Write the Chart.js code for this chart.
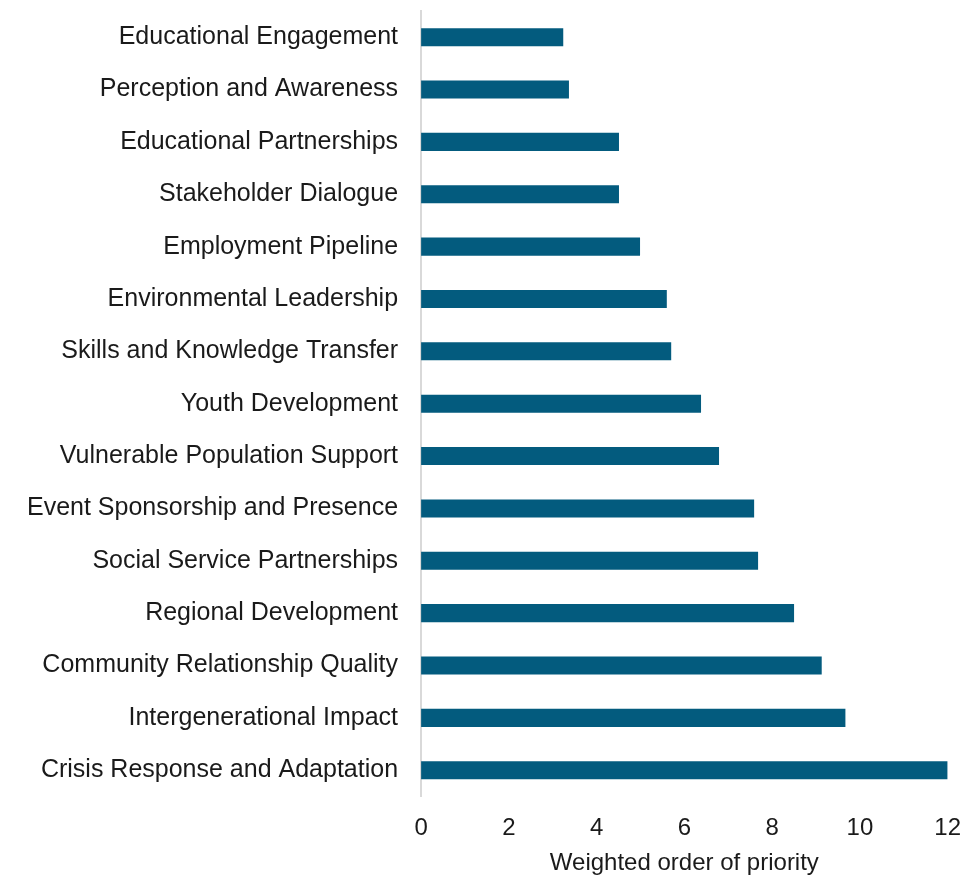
<!DOCTYPE html>
<html>
<head>
<meta charset="utf-8">
<script src="https://cdn.jsdelivr.net/npm/chart.js@4/dist/chart.umd.min.js"></script>
<style>
  html, body { margin: 0; padding: 0; background: #fff; }
  #wrap { width: 966px; height: 885px; overflow: hidden; position: relative; }
  #inner { position: absolute; left: 0; top: -19px; width: 971px; height: 903px; }
</style>
</head>
<body>
<div id="wrap"><div id="inner"><canvas id="priorityChart"></canvas></div></div>
<script>
// --- data ---
const categories = [
    'Educational Engagement',
    'Perception and Awareness',
    'Educational Partnerships',
    'Stakeholder Dialogue',
    'Employment Pipeline',
    'Environmental Leadership',
    'Skills and Knowledge Transfer',
    'Youth Development',
    'Vulnerable Population Support',
    'Event Sponsorship and Presence',
    'Social Service Partnerships',
    'Regional Development',
    'Community Relationship Quality',
    'Intergenerational Impact',
    'Crisis Response and Adaptation'
];
const priorityScores = [3.24, 3.37, 4.51, 4.51, 4.99, 5.6, 5.7, 6.38, 6.79, 7.59, 7.68, 8.5, 9.13, 9.67, 12.0];
const axisTitle = 'Weighted order of priority';

const fontFamily = "'Liberation Sans', Arial, sans-serif";

// --- chart ---
const ctx = document.getElementById('priorityChart').getContext('2d');
new Chart(ctx, {
    type: 'bar',
    data: {
        labels: categories,
        datasets: [
            { label: axisTitle, data: priorityScores, backgroundColor: '#035b7e', barPercentage: 0.69, categoryPercentage: 0.5 }
        ]
    },
    options: {
        indexAxis: 'y',
        responsive: true,
        maintainAspectRatio: false,
        animation: false,
        layout: { padding: { top: 0, right: 0, bottom: 6, left: 12 } },
        plugins: { legend: { display: false }, tooltip: { enabled: false } },
        scales: {
            x: {
                min: 0, max: 12,
                ticks: { stepSize: 2, color: '#1a1a1a', font: { family: fontFamily, size: 24 }, padding: 10 },
                grid: { display: false },
                border: { display: false },
                title: { display: true, text: axisTitle, color: '#1a1a1a', font: { family: fontFamily, size: 24 }, padding: { top: -4, bottom: 0 } }
            },
            y: {
                ticks: { color: '#1a1a1a', font: { family: fontFamily, size: 25 }, padding: 15 },
                grid: { display: false },
                border: { display: true, color: '#d9d9d9', width: 2 }
            }
        }
    }
});
</script>
</body>
</html>
